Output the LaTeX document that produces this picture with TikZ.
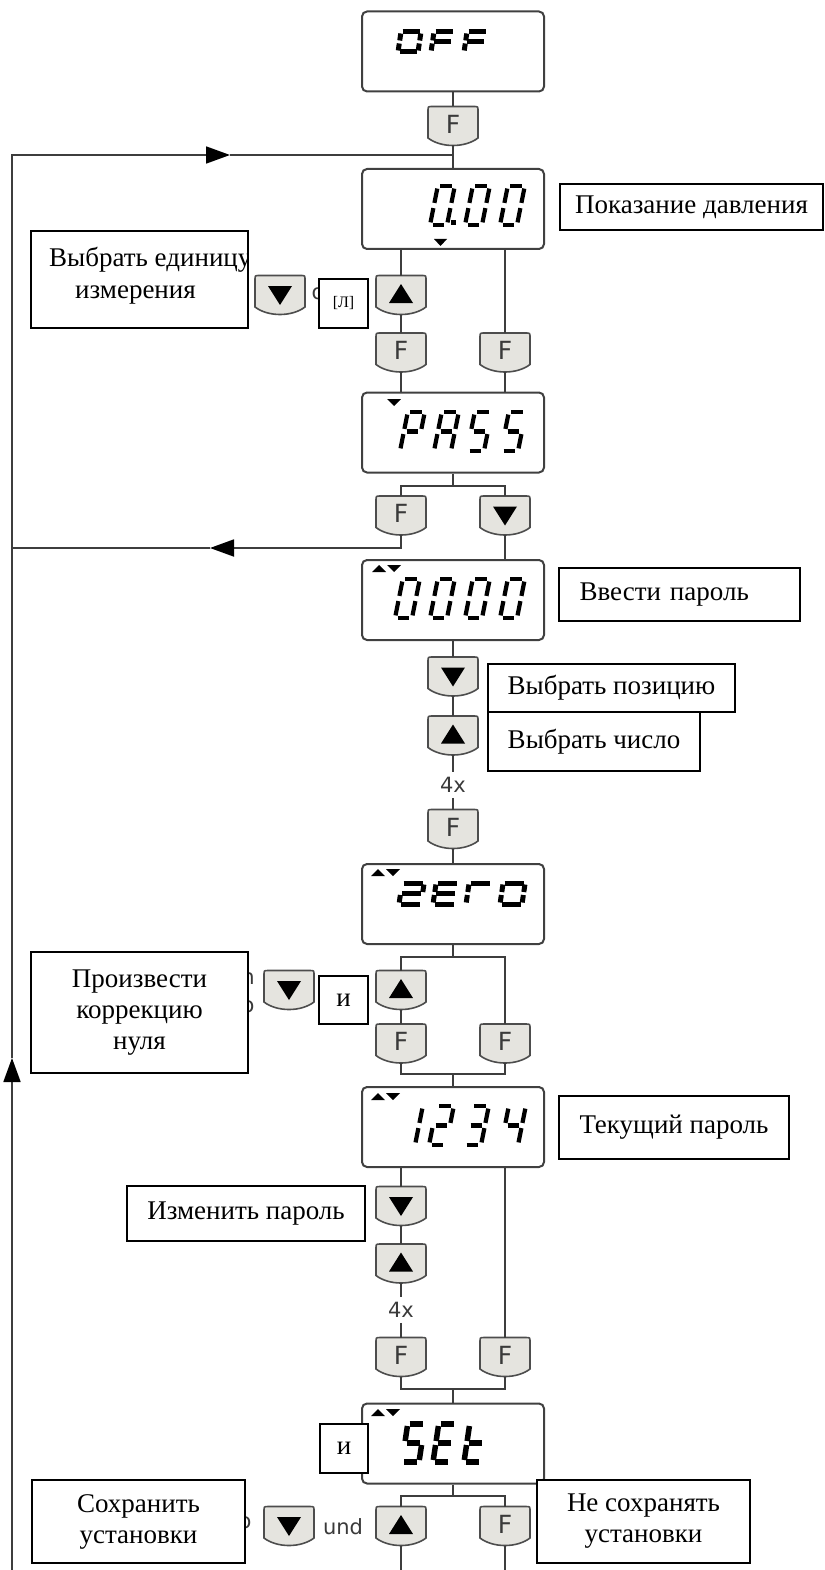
\documentclass[tikz,border=0pt]{standalone}
\usepackage{fontspec}
\setmainfont{Liberation Serif}
\newfontfamily\keyfont{DejaVu Sans}
\usepackage{tikz}
\usetikzlibrary{arrows.meta}

\definecolor{linegray}{HTML}{3D3D3D}
\definecolor{lcdedge}{HTML}{404040}
\definecolor{keyfill}{HTML}{E5E4DF}
\definecolor{keyedge}{HTML}{4D4D4D}
\definecolor{keytext}{HTML}{3A3A3A}

\newcommand\boxfont{\fontsize{27}{31}\selectfont}
\newcommand\signfont{\keyfont\fontsize{21}{21}\selectfont}

% seven segment glyphs: segments a b c d e f g
\newcommand\segw{16}
\newcommand\segh{38}
\newcommand\segg{3}
\newcommand\segl{3.6pt}
\newcommand\segsl{0.2}
\newcommand\lcdstyle[5]{\renewcommand\segw{#1}\renewcommand\segh{#2}\renewcommand\segg{#3}\renewcommand\segl{#4}\renewcommand\segsl{#5}}
\newcommand\lcdseg[7]{%
  \ifnum#1=1 \draw (\segg,\segh)--(\segw-\segg,\segh);\fi
  \ifnum#2=1 \draw (\segw,\segh-\segg)--(\segw,\segh/2+\segg);\fi
  \ifnum#3=1 \draw (\segw,\segh/2-\segg)--(\segw,\segg);\fi
  \ifnum#4=1 \draw (\segg,0)--(\segw-\segg,0);\fi
  \ifnum#5=1 \draw (0,\segg)--(0,\segh/2-\segg);\fi
  \ifnum#6=1 \draw (0,\segh/2+\segg)--(0,\segh-\segg);\fi
  \ifnum#7=1 \draw (\segg,\segh/2)--(\segw-\segg,\segh/2);\fi}
\newcommand\lcdchar[3]{%
  \begin{scope}[shift={(#1,#2)},x=1pt,y=1pt,xslant=\segsl,line width=\segl]
    \lcdseg#3
  \end{scope}}
% small arrow marks in the display corner
\newcommand\updn[2]{%
  \fill (#1,#2+7)--(#1+14,#2+7)--(#1+7,#2)--cycle;
  \fill (#1+15,#2)--(#1+29,#2)--(#1+22,#2+7)--cycle;}

% key caps
\newcommand\keycap[4]{%
  \begin{scope}[shift={(#2,#3)}]
    \filldraw[keyshape] (-25,12)--(-25,-15) .. controls (-25,-19.5) .. (-20.5,-19.5)--(20.5,-19.5) .. controls (25,-19.5) .. (25,-15)--(25,12) .. controls (12,22) and (-12,22) .. cycle;
  \end{scope}
  \node[key] (#1) at (#2,#3) {#4};}
\newcommand\keyF[3]{\keycap{#1}{#2}{#3}{F}}
\newcommand\keyUp[3]{\keycap{#1}{#2}{#3}{}\fill (#2-12,#3+8)--(#2+12,#3+8)--(#2,#3-11)--cycle;}
\newcommand\keyDn[3]{\keycap{#1}{#2}{#3}{}\fill (#2-12,#3-9)--(#2+12,#3-9)--(#2,#3+10)--cycle;}

\begin{document}
\begin{tikzpicture}[x=1pt,y=-1pt,
  conn/.style={draw=linegray,line width=1.8},
  flowarrow/.style={-{Triangle[length=24pt,width=17pt,color=black]}},
  lcd/.style={draw=lcdedge,line width=2,rounded corners=5,fill=white,minimum width=182,minimum height=80,inner sep=0},
  keyshape/.style={fill=keyfill,draw=keyedge,line width=1.6},
  key/.style={minimum width=50,minimum height=39,inner sep=0,outer sep=0,text depth=4pt,text=keytext,font=\keyfont\fontsize{25}{25}\selectfont},
  tbox/.style={draw=black,line width=1.6,fill=white,inner sep=0,outer sep=0,align=center,font=\boxfont},
  sign/.style={inner xsep=1,inner ysep=5,text=keytext,font=\signfont}]
\useasboundingbox (0,0) rectangle (824,1570);

% displays
\node[lcd] (dOff) at (453,51.5) {};
\node[lcd] (dPress) at (453,209) {};
\node[lcd] (dPass) at (453,432.5) {};
\node[lcd] (dCode) at (453,600) {};
\node[lcd] (dZero) at (453,904) {};
\node[lcd] (dCur) at (453,1127) {};
\node[lcd] (dSet) at (453,1443.5) {};

% keys
\keyF{kF0}{453}{126}
\keyDn{kDn1}{280}{295}
\keyUp{kUp1}{401}{295}
\keyF{kF1a}{401}{352.5}
\keyF{kF1b}{505}{352.5}
\keyF{kF2}{401}{515.5}
\keyDn{kDn2}{505}{515.5}
\keyDn{kDn3}{453}{676.5}
\keyUp{kUp3}{453}{735.5}
\keyF{kF3}{453}{829}
\keyDn{kDn4}{289}{990}
\keyUp{kUp4}{401}{990}
\keyF{kF4a}{401}{1043.5}
\keyF{kF4b}{505}{1043.5}
\keyDn{kDn5}{401}{1206}
\keyUp{kUp5}{401}{1263.5}
\keyF{kF5a}{401}{1357}
\keyF{kF5b}{505}{1357}
\keyDn{kDn6}{289}{1526}
\keyUp{kUp6}{401}{1526}
\keyF{kF6}{505}{1526}

\node[sign] (n4xA) at (453,785) {4x};
\node[sign] (n4xB) at (401,1310) {4x};
\node[sign] (nUnd) at (343,1527) {und};

% return loop
\coordinate (jIn) at (453,155);
\coordinate (lBot) at (12,1570);
\coordinate (lTop) at (12,155);
\coordinate (aUp) at (12,1058);
\coordinate (aIn) at (230,155);
\coordinate (aOut) at (210,548);
\coordinate (lMid) at (12,548);
\draw[conn,flowarrow] (lBot) -- (aUp);
\draw[conn,flowarrow] (aUp) -- (lTop) -- (aIn);
\draw[conn] (aIn) -- (jIn);
\draw[conn] (dOff) -- (kF0);
\draw[conn] (kF0) -- (dPress);

% pressure
\draw[conn] (dPress.south -| kUp1) -- (kUp1);
\draw[conn] (kUp1) -- (kF1a);
\draw[conn] (kF1a) -- (kF1a |- dPass.north);
\draw[conn] (dPress.south -| kF1b) -- (kF1b);
\draw[conn] (kF1b) -- (kF1b |- dPass.north);

% password
\coordinate (jPass) at (453,486);
\draw[conn] (dPass) -- (jPass);
\draw[conn] (jPass) -| (kF2);
\draw[conn] (jPass) -| (kDn2);
\draw[conn,flowarrow] (kF2) |- (aOut);
\draw[conn] (aOut) -- (lMid);
\draw[conn] (kDn2) -- (kDn2 |- dCode.north);
\draw[conn] (dCode) -- (kDn3);
\draw[conn] (kDn3) -- (kUp3);
\draw[conn] (kUp3) -- (n4xA) -- (kF3);
\draw[conn] (kF3) -- (dZero);

% zero
\coordinate (jZeroA) at (453,957);
\coordinate (jZeroB) at (453,1074);
\draw[conn] (dZero) -- (jZeroA);
\draw[conn] (jZeroA) -| (kUp4);
\draw[conn] (jZeroA) -| (kF4b);
\draw[conn] (kUp4) -- (kF4a);
\draw[conn] (kF4a) |- (jZeroB);
\draw[conn] (kF4b) |- (jZeroB);
\draw[conn] (jZeroB) -- (dCur);

% new password
\coordinate (jCur) at (453,1389);
\draw[conn] (dCur.south -| kDn5) -- (kDn5);
\draw[conn] (kDn5) -- (kUp5);
\draw[conn] (kUp5) -- (n4xB) -- (kF5a);
\draw[conn] (dCur.south -| kF5b) -- (kF5b);
\draw[conn] (kF5a) |- (jCur);
\draw[conn] (kF5b) |- (jCur);
\draw[conn] (jCur) -- (dSet);

% set
\coordinate (jSet) at (453,1496);
\draw[conn] (dSet) -- (jSet);
\draw[conn] (jSet) -| (kUp6);
\draw[conn] (jSet) -| (kF6);
\draw[conn] (kUp6) -- (kUp6 |- lBot);
\draw[conn] (kF6) -- (kF6 |- lBot);

% display texts
\lcdstyle{20}{20}{1.5}{5pt}{0.15}
\lcdchar{398}{52}{1111110}
\lcdchar{431}{52}{1000111}
\lcdchar{464}{52}{1000111}
\lcdstyle{17}{39}{2.6}{4.2pt}{0.2}
\lcdchar{430}{225}{1111110}
\lcdchar{465}{225}{1111110}
\lcdchar{500}{225}{1111110}
\fill (451,220) rectangle (456,225);
\fill (434,239)--(447,239)--(440.5,246)--cycle;
\lcdchar{400}{451}{1100111}
\lcdchar{434}{451}{1110111}
\lcdchar{467}{451}{1011011}
\lcdchar{501}{451}{1011011}
\fill (387,399)--(401,399)--(394,406)--cycle;
\lcdchar{395}{618}{1111110}
\lcdchar{430}{618}{1111110}
\lcdchar{465}{618}{1111110}
\lcdchar{500}{618}{1111110}
\updn{372}{565}
\lcdchar{398}{1145}{0110000}
\lcdchar{429}{1145}{1101101}
\lcdchar{464}{1145}{1111001}
\lcdchar{501}{1145}{0110011}
\updn{371}{1093}
\lcdstyle{22}{21}{1.5}{5pt}{0.15}
\lcdchar{399}{904}{1101101}
\lcdchar{433}{904}{1001111}
\lcdchar{466}{904}{1000110}
\lcdchar{500}{904}{1111110}
\updn{371}{869}
\lcdstyle{17}{38}{2}{5.5pt}{0.15}
\lcdchar{402}{1462}{1011011}
\lcdchar{433}{1462}{1001111}
\lcdchar{464}{1462}{0001111}
\updn{371}{1409}

% covered words
\node[sign,inner sep=0] (fragA) at (318,294) {o};
\node[sign,inner sep=0] (fragB) at (248,979) {n};
\node[sign,inner sep=0] (fragC) at (248,1007) {o};
\node[sign,inner sep=0] (fragD) at (245,1523) {o};

% notes
\node[tbox,minimum width=263,minimum height=46] (bPress) at (691.5,207) {Показание давления};
\node[tbox,minimum width=217,minimum height=97] (bUnit) at (139.5,279.5) {};
\begin{scope}
  \clip (bUnit.south west) rectangle (bUnit.north east);
  \node[anchor=base west,inner sep=0,font=\boxfont] (tUnitA) at (49,266) {Выбрать единицу};
  \node[anchor=base,inner sep=0,font=\boxfont] (tUnitB) at (135.5,298) {измерения};
\end{scope}
\draw[line width=1.6] (bUnit.south west) rectangle (bUnit.north east);
\node[tbox,minimum width=49,minimum height=49,font=\fontsize{16}{16}\selectfont] (bOr) at (343.5,303.5) {\raisebox{-6pt}{[Л]}};
\node[tbox,minimum width=241,minimum height=53,text width=200,align=left] (bCode) at (679.5,594.5) {Ввести пароль};
\node[tbox,minimum width=247,minimum height=48] (bPos) at (611.5,688) {Выбрать позицию};
\node[tbox,minimum width=212,minimum height=59] (bNum) at (594,741.5) {Выбрать число};
\node[tbox,minimum width=217,minimum height=121] (bZero) at (139.5,1012.5) {Произвести\\коррекцию\\нуля};
\node[tbox,minimum width=49,minimum height=48] (bAnd1) at (343.5,1000) {\raisebox{-5pt}{и}};
\node[tbox,minimum width=230,minimum height=63] (bCur) at (674,1127.5) {Текущий пароль};
\node[tbox,minimum width=238,minimum height=55] (bNew) at (246,1213.5) {Изменить пароль};
\node[tbox,minimum width=48,minimum height=49] (bAnd2) at (344,1448.5) {\raisebox{-6pt}{и}};
\node[tbox,minimum width=213,minimum height=83] (bSave) at (138.5,1521.5) {Сохранить\\установки};
\node[tbox,minimum width=213,minimum height=83] (bKeep) at (643.5,1521.5) {Не сохранять\\установки};
\end{tikzpicture}
\end{document}
